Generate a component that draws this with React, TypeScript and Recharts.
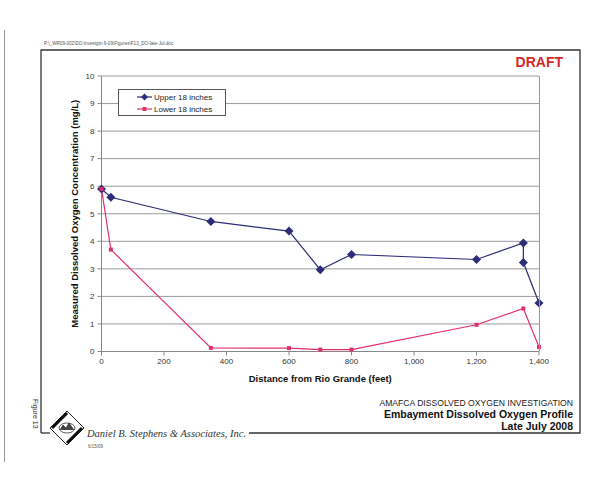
import React from 'react'
import { LineChart, Line, XAxis, YAxis, CartesianGrid, Legend } from 'recharts'

// distances (feet) and DO readings (mg/L)
const upperDistance = [0, 30, 350, 600, 700, 800, 1200, 1350, 1350, 1400]
const upperDO = [5.9, 5.6, 4.72, 4.37, 2.97, 3.52, 3.34, 3.94, 3.23, 1.76]

const lowerDistance = [0, 30, 350, 600, 700, 800, 1200, 1350, 1400]
const lowerDO = [5.9, 3.7, 0.13, 0.12, 0.07, 0.07, 0.97, 1.56, 0.16]

const xTicks = [0, 200, 400, 600, 800, 1000, 1200, 1400]
const yTicks = [0, 1, 2, 3, 4, 5, 6, 7, 8, 9, 10]

const UPPER = '#2c2c78'
const LOWER = '#e0306a'
const FONT = '"Liberation Sans", Arial, sans-serif'

const upperData = upperDistance.map((x, i) => ({ x, v: upperDO[i] }))
const lowerData = lowerDistance.map((x, i) => ({ x, v: lowerDO[i] }))

const Diamond = (props: any) => {
    const { cx, cy, index } = props
    if (cx == null || cy == null) return <g key={index} />
    const r = 4.5
    return (
        <polygon
            key={'d' + index}
            points={`${cx},${cy - r} ${cx + r},${cy} ${cx},${cy + r} ${cx - r},${cy}`}
            fill={UPPER}
        />
    )
}

const Square = (props: any) => {
    const { cx, cy, index } = props
    if (cx == null || cy == null) return <g key={index} />
    return <rect key={'s' + index} x={cx - 2} y={cy - 2} width={4} height={4} fill={LOWER} />
}

const LegendBox = () => (
    <div
        style={{
            border: '1px solid #555',
            background: '#fff',
            width: 106,
            height: 25,
            fontFamily: FONT,
            fontSize: 8,
            color: '#222',
            boxSizing: 'content-box',
        }}
    >
        {[
            { name: 'Upper 18 inches', color: UPPER, diamond: true },
            { name: 'Lower 18 inches', color: LOWER, diamond: false },
        ].map((item, i) => (
            <div key={item.name} style={{ display: 'flex', alignItems: 'center', height: 12, marginTop: i === 0 ? 1 : 0 }}>
                <svg width={34} height={10} style={{ marginLeft: 0 }}>
                    <line x1={18} y1={5} x2={33} y2={5} stroke={item.color} strokeWidth={1.2} />
                    {item.diamond ? (
                        <polygon points="25.5,1.5 29,5 25.5,8.5 22,5" fill={item.color} />
                    ) : (
                        <rect x={23.5} y={3} width={4} height={4} fill={item.color} />
                    )}
                </svg>
                <span style={{ marginLeft: 1 }}>{item.name}</span>
            </div>
        ))}
    </div>
)

export default function App() {
    return (
        <div style={{ position: 'absolute', left: 0, top: 0, width: 612, height: 477, background: '#fff' }}>
            <LineChart
                width={612}
                height={477}
                margin={{ top: 76, right: 73, bottom: 95.5, left: 71.5 }}
                style={{ position: 'absolute', left: 0, top: 0 }}
            >
                <CartesianGrid vertical={false} stroke="#9a9a9a" strokeWidth={1} />
                <XAxis
                    dataKey="x"
                    type="number"
                    domain={[0, 1400]}
                    ticks={xTicks}
                    height={30}
                    allowDuplicatedCategory={false}
                    tickFormatter={(v) => Number(v).toLocaleString('en-US')}
                    stroke="#888"
                    tickSize={4}
                    tickMargin={3}
                    tick={{ fill: '#333', fontSize: 8, fontFamily: FONT }}
                    label={{
                        value: 'Distance from Rio Grande (feet)',
                        position: 'insideBottom',
                        offset: 0,
                        style: { fill: '#111', fontSize: 9.5, fontWeight: 'bold', fontFamily: FONT },
                    }}
                />
                <YAxis
                    type="number"
                    domain={[0, 10]}
                    ticks={yTicks}
                    width={30}
                    stroke="#888"
                    tickSize={4}
                    tickMargin={3}
                    tick={{ fill: '#333', fontSize: 8, fontFamily: FONT }}
                    label={{
                        value: 'Measured Dissolved Oxygen Concentration (mg/L)',
                        angle: -90,
                        position: 'insideLeft',
                        offset: 3,
                        style: { fill: '#111', fontSize: 9.5, fontWeight: 'bold', fontFamily: FONT, textAnchor: 'middle' },
                    }}
                />
                <Legend
                    layout="vertical"
                    align="center"
                    verticalAlign="middle"
                    content={() => <LegendBox />}
                    wrapperStyle={{ position: 'absolute', left: 118, top: 89, width: 108, height: 27 }}
                />
                <Line
                    data={upperData}
                    dataKey="v"
                    name="Upper 18 inches"
                    stroke={UPPER}
                    strokeWidth={1.2}
                    dot={Diamond}
                    activeDot={false}
                    isAnimationActive={false}
                />
                <Line
                    data={lowerData}
                    dataKey="v"
                    name="Lower 18 inches"
                    stroke={LOWER}
                    strokeWidth={1.2}
                    dot={Square}
                    activeDot={false}
                    isAnimationActive={false}
                />
            </LineChart>

            {/* page decoration: frame, title block, logo */}
            <svg width={612} height={477} style={{ position: 'absolute', left: 0, top: 0, pointerEvents: 'none' }}>
                <line x1={4.5} y1={30} x2={4.5} y2={462} stroke="#999" strokeWidth={1} />
                <text x={44} y={45} fontSize={4.6} fill="#555" fontFamily={FONT}>
                    P:\_WR09-002\DO-Investgtn 6-09\Figures\F13_DO-late-Jul.doc
                </text>
                <polyline points="41,433 41,50 580,50 580,433 249,433" fill="none" stroke="#333" strokeWidth={1.3} />
                <line x1={41} y1={433} x2={50} y2={433} stroke="#333" strokeWidth={1.3} />
                <line x1={539.5} y1={76} x2={539.5} y2={351.5} stroke="#999" strokeWidth={1} />
                <text x={563} y={67} textAnchor="end" fontSize={14} fontWeight="bold" fill="#d42a2a" fontFamily={FONT}>
                    DRAFT
                </text>
                <text x={573} y={406} textAnchor="end" fontSize={8.6} fill="#222" fontFamily={FONT}>
                    AMAFCA DISSOLVED OXYGEN INVESTIGATION
                </text>
                <text x={573} y={418} textAnchor="end" fontSize={10.5} fontWeight="bold" fill="#111" fontFamily={FONT}>
                    Embayment Dissolved Oxygen Profile
                </text>
                <text x={573} y={430} textAnchor="end" fontSize={10.5} fontWeight="bold" fill="#111" fontFamily={FONT}>
                    Late July 2008
                </text>
                <text transform="translate(33,399) rotate(90)" fontSize={7} fill="#333" fontFamily={FONT}>
                    Figure 13
                </text>
                {/* logo */}
                <polygon points="67,411 84,428 67,445 50,428" fill="#fff" stroke="#222" strokeWidth={1} />
                <line x1={52} y1={428} x2={67} y2={413} stroke="#111" strokeWidth={3} />
                <line x1={82} y1={428} x2={67} y2={443} stroke="#111" strokeWidth={3} />
                <ellipse cx={67} cy={428} rx={8} ry={5} fill="#fff" stroke="#333" strokeWidth={0.8} />
                <polyline points="60,430 63,425 66,428 69,423 74,430" fill="#444" stroke="#222" strokeWidth={0.6} />
                <text x={87} y={437} fontSize={10.5} fontStyle="italic" fill="#333" fontFamily='"Liberation Serif", "Times New Roman", serif'>
                    Daniel B. Stephens &amp; Associates, Inc.
                </text>
                <text x={88} y={448} fontSize={4.5} fill="#555" fontFamily={FONT}>
                    6/15/09
                </text>
            </svg>
        </div>
    )
}
